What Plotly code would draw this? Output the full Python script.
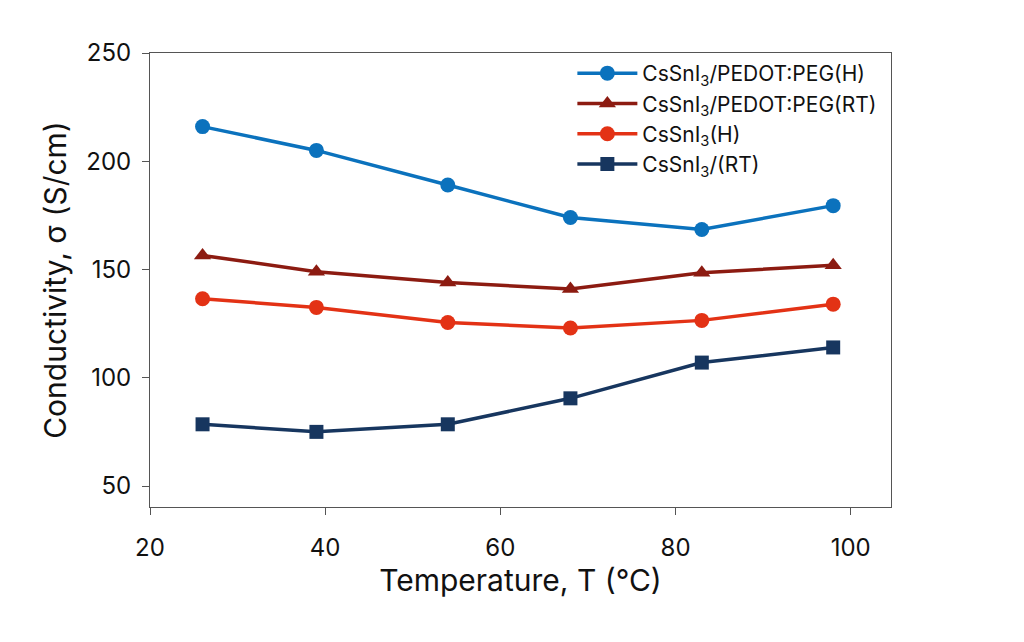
import plotly.graph_objects as go

# -----------------------------------------------------------------------------
# Data
# -----------------------------------------------------------------------------
temperature = [26, 39, 54, 68, 83, 98]

pedot_h = [216, 205, 189, 174, 168.5, 179.5]
pedot_rt = [156.5, 149, 144, 141, 148.5, 152]
cssni3_h = [136.5, 132.5, 125.5, 123, 126.5, 134]
cssni3_rt = [78.5, 75, 78.5, 90.5, 107, 114]

series = [
    {'name': 'CsSnI<sub>3</sub>/PEDOT:PEG(H)', 'y': pedot_h, 'color': '#0b72bd', 'symbol': 'circle', 'size': 15},
    {'name': 'CsSnI<sub>3</sub>/PEDOT:PEG(RT)', 'y': pedot_rt, 'color': '#8c1b11', 'symbol': 'triangle-up', 'size': 15},
    {'name': 'CsSnI<sub>3</sub>(H)', 'y': cssni3_h, 'color': '#e33215', 'symbol': 'circle', 'size': 15},
    {'name': 'CsSnI<sub>3</sub>/(RT)', 'y': cssni3_rt, 'color': '#17365f', 'symbol': 'square', 'size': 14},
]

# -----------------------------------------------------------------------------
# Figure
# -----------------------------------------------------------------------------
fig = go.Figure()
for s in series:
    fig.add_trace(go.Scatter(
        x=temperature,
        y=s['y'],
        name=s['name'],
        mode='lines+markers',
        line=dict(color=s['color'], width=3.5),
        marker=dict(color=s['color'], symbol=s['symbol'], size=s['size']),
    ))

axis_style = dict(
    showline=True, linecolor='#555555', linewidth=1, mirror=True,
    ticks='outside', ticklen=7, tickcolor='#555555',
    showgrid=False, zeroline=False,
    tickfont=dict(size=24, color='#111111'),
)

fig.update_xaxes(
    range=[20, 104.6], tickvals=[20, 40, 60, 80, 100],
    ticklabelstandoff=12,
    title=dict(text='Temperature, T (°C)', font=dict(size=30, color='#111111'), standoff=8),
    **axis_style
)
fig.update_yaxes(
    range=[40.3, 250], tickvals=[50, 100, 150, 200, 250],
    ticklabelstandoff=6,
    title=dict(text='Conductivity, σ (S/cm)', font=dict(size=30, color='#111111'), standoff=10),
    **axis_style
)

fig.update_layout(
    width=1024, height=642,
    template='plotly_white',
    plot_bgcolor='white', paper_bgcolor='white',
    font=dict(family='Inter, Roboto, sans-serif', color='#111111'),
    margin=dict(l=142, r=141, t=45, b=143),
    legend=dict(
        x=0.57, y=1.0, xanchor='left', yanchor='top',
        font=dict(size=21, color='#111111'),
        bgcolor='rgba(0,0,0,0)',
        tracegroupgap=0,
        itemwidth=60,
    ),
)

fig.write_html("out.html")
